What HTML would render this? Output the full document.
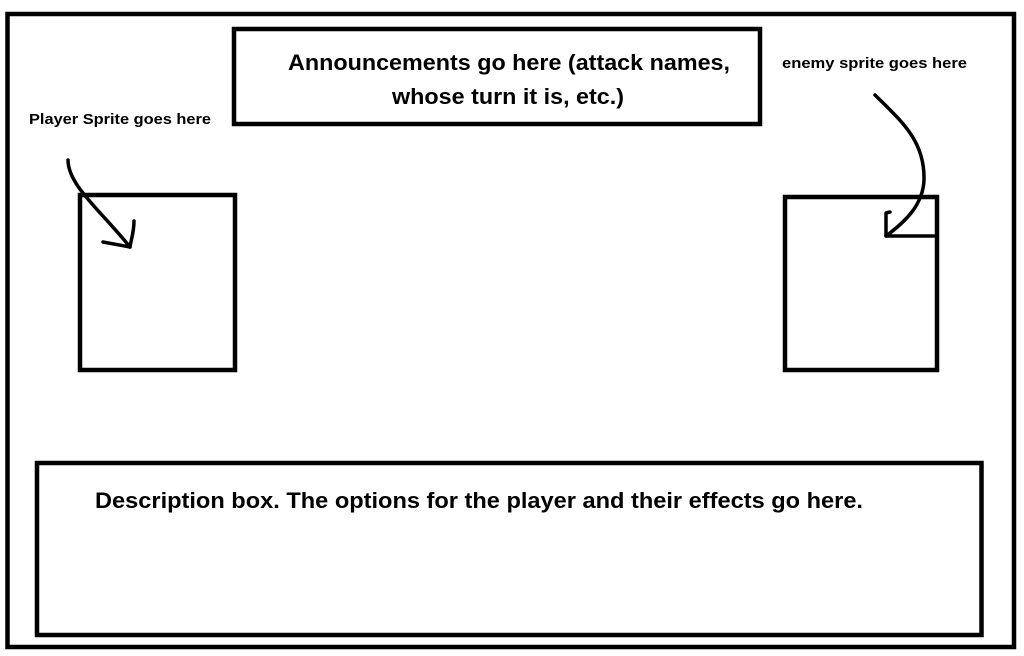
<!DOCTYPE html>
<html><head><meta charset="utf-8"><style>
html,body{margin:0;padding:0;background:#fff;}
svg{display:block}
text{font-family:"Liberation Sans",sans-serif;font-weight:bold;fill:#000}
</style></head><body>
<svg width="1024" height="656" viewBox="0 0 1024 656" xmlns="http://www.w3.org/2000/svg">
<rect width="1024" height="656" fill="#fff"/>
<g fill="none" stroke="#000" stroke-width="4.5">
<rect x="7.5" y="14" width="1006.5" height="633"/>
<rect x="234" y="29" width="526" height="95"/>
<rect x="80" y="195" width="155" height="175"/>
<rect x="785" y="197" width="152" height="173"/>
<rect x="37" y="463" width="944.5" height="172"/>
</g>
<g fill="none" stroke="#000" stroke-width="3.5" stroke-linecap="round" stroke-linejoin="round">
<path d="M68 160 C68 185 100 210 130 247"/>
<path d="M134 221 C134 232 131 240 130 247 L103 242"/>
<path d="M875 95 C900 120 925 140 924 180 C923 205 905 222 886 236 L934 236"/>
<path d="M886 236 L886 213 L890 212"/>
</g>
<text x="288" y="70" font-size="22" textLength="442" lengthAdjust="spacingAndGlyphs">Announcements go here (attack names,</text>
<text x="392" y="104" font-size="22" textLength="232" lengthAdjust="spacingAndGlyphs">whose turn it is, etc.)</text>
<text x="29" y="124" font-size="15" textLength="182" lengthAdjust="spacingAndGlyphs">Player Sprite goes here</text>
<text x="782" y="68" font-size="15" textLength="185" lengthAdjust="spacingAndGlyphs">enemy sprite goes here</text>
<text x="95" y="508" font-size="22" textLength="768" lengthAdjust="spacingAndGlyphs">Description box. The options for the player and their effects go here.</text>
</svg>
</body></html>
